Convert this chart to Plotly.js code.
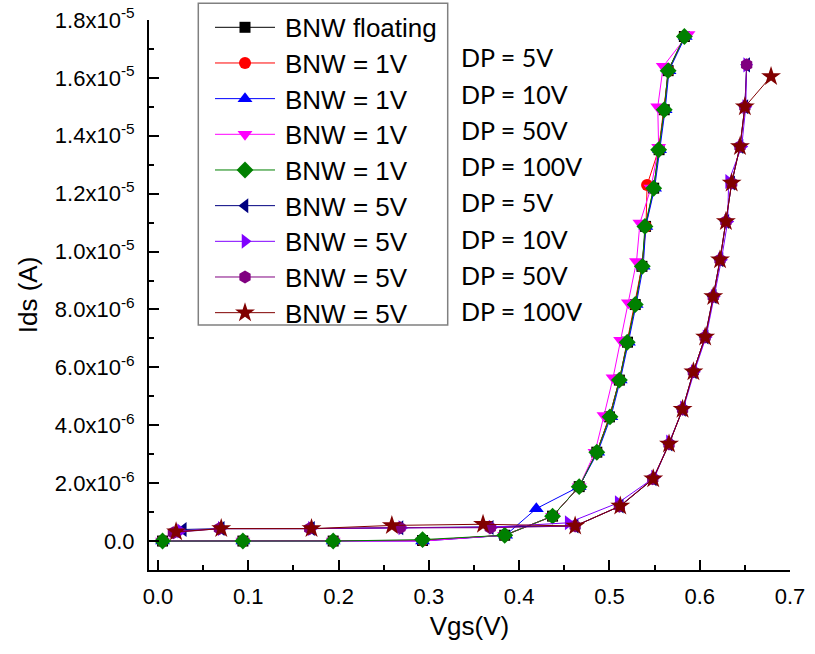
<!DOCTYPE html>
<html>
<head>
<meta charset="utf-8">
<script src="https://cdn.plot.ly/plotly-3.0.1.min.js"></script>
<style>html,body{margin:0;padding:0;background:#fff;}#chart{width:815px;height:654px;}</style>
</head>
<body>
<div id="chart"></div>
<script>
// ---------- data (Vgs in V, Ids in A) ----------
var vgsFloat = [0.005,0.094,0.194,0.293,0.384,0.437,0.4665,0.486,0.5,0.511,0.52,0.5286,0.536,0.54,0.549,0.555,0.5607,0.565,0.583];
var idsFloat = [0,0,0,0.02e-6,0.2e-6,0.86e-6,1.88e-6,3.07e-6,4.29e-6,5.56e-6,6.87e-6,8.17e-6,9.49e-6,10.87e-6,12.19e-6,13.52e-6,14.9e-6,16.25e-6,17.43e-6];

var vgs1V_5 = [0.005,0.094,0.194,0.293,0.384,0.437,0.4665,0.486,0.5,0.511,0.5195,0.528,0.536,0.5405,0.5417,0.5545,0.56,0.5655,0.583];
var ids1V_5 = [0,0,0,0.02e-6,0.2e-6,0.86e-6,1.88e-6,3.07e-6,4.29e-6,5.56e-6,6.87e-6,8.17e-6,9.49e-6,10.87e-6,12.3e-6,13.52e-6,14.9e-6,16.25e-6,17.43e-6];

var vgs1V_10 = [0.005,0.094,0.194,0.293,0.385,0.419,0.4665,0.487,0.5016,0.512,0.521,0.5296,0.5374,0.5403,0.55,0.5555,0.5617,0.566,0.584];
var ids1V_10 = [0,0,0,0,0.2e-6,1.12e-6,1.88e-6,3.07e-6,4.29e-6,5.56e-6,6.87e-6,8.17e-6,9.49e-6,10.87e-6,12.19e-6,13.52e-6,14.9e-6,16.25e-6,17.43e-6];

var vgs1V_50 = [0.005,0.094,0.194,0.293,0.384,0.437,0.4665,0.484,0.494,0.504,0.5124,0.521,0.530,0.5338,0.546,0.5545,0.5535,0.5596,0.587];
var ids1V_50 = [0,0,0,0,0.2e-6,0.86e-6,1.88e-6,3.07e-6,4.34e-6,5.64e-6,6.94e-6,8.23e-6,9.66e-6,10.99e-6,12.2e-6,13.6e-6,15.0e-6,16.4e-6,17.5e-6];

var vgs1V_100 = [0.005,0.094,0.194,0.293,0.384,0.437,0.4665,0.486,0.5006,0.511,0.5197,0.5286,0.5364,0.5393,0.549,0.5545,0.5607,0.565,0.583];
var ids1V_100 = [0,0,0,0.05e-6,0.2e-6,0.86e-6,1.88e-6,3.07e-6,4.29e-6,5.56e-6,6.87e-6,8.17e-6,9.49e-6,10.87e-6,12.19e-6,13.52e-6,14.9e-6,16.25e-6,17.43e-6];

var vgs5V_5 = [0.028,0.07,0.17,0.268,0.368,0.462,0.512,0.5485,0.566,0.581,0.593,0.606,0.615,0.6225,0.629,0.6354,0.6446,0.650,0.652];
var ids5V_5 = [0.4e-6,0.43e-6,0.43e-6,0.46e-6,0.47e-6,0.52e-6,1.21e-6,2.15e-6,3.35e-6,4.55e-6,5.85e-6,7.05e-6,8.45e-6,9.72e-6,11.04e-6,12.37e-6,13.63e-6,15.0e-6,16.45e-6];

var vgs5V_10 = [0.025,0.07,0.17,0.27,0.37,0.4543,0.5097,0.55,0.5665,0.582,0.594,0.607,0.616,0.624,0.631,0.632,0.6465,0.651,0.652];
var ids5V_10 = [0.35e-6,0.43e-6,0.43e-6,0.46e-6,0.48e-6,0.63e-6,1.32e-6,2.2e-6,3.42e-6,4.6e-6,5.85e-6,7.05e-6,8.45e-6,9.72e-6,11.04e-6,12.42e-6,13.63e-6,15.0e-6,16.45e-6];

var vgs5V_50 = [0.017,0.068,0.168,0.268,0.368,0.462,0.511,0.548,0.566,0.581,0.593,0.606,0.615,0.6225,0.629,0.6354,0.6446,0.650,0.652];
var ids5V_50 = [0.29e-6,0.43e-6,0.43e-6,0.46e-6,0.46e-6,0.52e-6,1.2e-6,2.15e-6,3.35e-6,4.55e-6,5.85e-6,7.05e-6,8.45e-6,9.72e-6,11.04e-6,12.37e-6,13.63e-6,15.0e-6,16.45e-6];

var vgs5V_100 = [0.02,0.07,0.17,0.259,0.36,0.462,0.512,0.5485,0.566,0.581,0.593,0.606,0.615,0.6225,0.629,0.6354,0.6446,0.650,0.679];
var ids5V_100 = [0.32e-6,0.43e-6,0.43e-6,0.54e-6,0.58e-6,0.52e-6,1.21e-6,2.15e-6,3.35e-6,4.55e-6,5.85e-6,7.05e-6,8.45e-6,9.72e-6,11.04e-6,12.37e-6,13.63e-6,15.0e-6,16.05e-6];

var seriesNames = ["BNW floating","BNW = 1V","BNW = 1V","BNW = 1V","BNW = 1V","BNW = 5V","BNW = 5V","BNW = 5V","BNW = 5V"];
var dpLabels = ["DP = 5V","DP = 10V","DP = 50V","DP = 100V","DP = 5V","DP = 10V","DP = 50V","DP = 100V"];

var xTickVals = [0,0.1,0.2,0.3,0.4,0.5,0.6,0.7];
var xTickText = ["0.0","0.1","0.2","0.3","0.4","0.5","0.6","0.7"];
var xMinorVals = [0.05,0.15,0.25,0.35,0.45,0.55,0.65];
var yTickVals = [0,2e-6,4e-6,6e-6,8e-6,1e-5,1.2e-5,1.4e-5,1.6e-5,1.8e-5];
var yTickText = ["0.0","2.0x10<sup>-6</sup>","4.0x10<sup>-6</sup>","6.0x10<sup>-6</sup>","8.0x10<sup>-6</sup>",
                 "1.0x10<sup>-5</sup>","1.2x10<sup>-5</sup>","1.4x10<sup>-5</sup>","1.6x10<sup>-5</sup>","1.8x10<sup>-5</sup>"];
var yMinorVals = [-1e-6,1e-6,3e-6,5e-6,7e-6,9e-6,1.1e-5,1.3e-5,1.5e-5,1.7e-5];

// ---------- styles ----------
var xs = [vgsFloat,vgs1V_5,vgs1V_10,vgs1V_50,vgs1V_100,vgs5V_5,vgs5V_10,vgs5V_50,vgs5V_100];
var ys = [idsFloat,ids1V_5,ids1V_10,ids1V_50,ids1V_100,ids5V_5,ids5V_10,ids5V_50,ids5V_100];
var colors = ["#000000","#ff0000","#0000ff","#ff00ff","#008000","#000080","#8000ff","#800080","#800000"];
var symbols = ["square","circle","triangle-up","triangle-down","diamond","triangle-left","triangle-right","hexagon","star"];
var sizes = [11,12,13,13,13,13,13,13,15];

// plot area in px
var L = 149, R = 790, T = 20, B = 570, W = 815, H = 654;
function px2paperX(p){ return (p - L) / (R - L); }
function px2paperY(p){ return (B - p) / (B - T); }

var traces = [];
for (var i = 0; i < xs.length; i++) {
  traces.push({
    x: xs[i], y: ys[i], type: 'scatter', mode: 'lines+markers', name: seriesNames[i],
    line: {color: colors[i], width: 1},
    marker: {color: colors[i], symbol: symbols[i], size: sizes[i], line: {width: 0}},
    showlegend: false, hoverinfo: 'skip'
  });
}

// manual legend (Origin style)
var legTop = 27.3, legStep = 35.67;
var shapes = [{type:'rect', xref:'paper', yref:'paper',
  x0: px2paperX(198.3), x1: px2paperX(447.7), y0: px2paperY(325), y1: px2paperY(3.3),
  line:{color:'#808080', width:1.5}, fillcolor:'rgba(0,0,0,0)'}];
var annotations = [];
for (var j = 0; j < seriesNames.length; j++) {
  var yy = legTop + j * legStep;
  shapes.push({type:'line', xref:'paper', yref:'paper', x0: px2paperX(215), x1: px2paperX(275),
    y0: px2paperY(yy), y1: px2paperY(yy), line:{color: colors[j], width:1}});
  traces.push({x:[245], y:[yy], xaxis:'x2', yaxis:'y2', type:'scatter', mode:'markers',
    marker:{color: colors[j], symbol: symbols[j], size: sizes[j], line:{width:0}},
    showlegend:false, hoverinfo:'skip', cliponaxis:false});
  annotations.push({xref:'paper', yref:'paper', x: px2paperX(283), y: px2paperY(yy + 1),
    xanchor:'left', yanchor:'middle', showarrow:false, text: seriesNames[j],
    font:{family:'Liberation Sans, Arial, sans-serif', size:26, color:'#000'}});
}
for (var k = 0; k < dpLabels.length; k++) {
  annotations.push({xref:'paper', yref:'paper', x: px2paperX(459), y: px2paperY(57.3 + k * 36.3),
    xanchor:'left', yanchor:'middle', showarrow:false, text: dpLabels[k],
    font:{family:'Lato, Open Sans, sans-serif', size:25, color:'#000'}});
}

var tickFont = {family:'Liberation Sans, Arial, sans-serif', size:22, color:'#000'};
var layout = {
  width: W, height: H,
  margin: {l: L, r: W - R, t: T, b: H - B, pad: 0},
  paper_bgcolor: '#fff', plot_bgcolor: '#fff',
  showlegend: false,
  xaxis: {
    range: [-0.01, 0.7], showgrid: false, zeroline: false,
    showline: true, linecolor: '#000', linewidth: 2, mirror: false,
    ticks: 'inside', ticklen: 10, tickwidth: 2, tickcolor: '#000',
    tickmode: 'array', tickvals: xTickVals, ticktext: xTickText,
    ticklabelstandoff: 6,
    minor: {tickmode: 'array', tickvals: xMinorVals, ticks: 'inside', ticklen: 5, tickwidth: 2, tickcolor: '#000', showgrid: false},
    tickfont: tickFont,
    title: {text: 'Vgs(V)', font: {family:'Liberation Sans, Arial, sans-serif', size: 26, color:'#000'}, standoff: 8}
  },
  yaxis: {
    range: [-1e-6, 1.8e-5], showgrid: false, zeroline: false,
    showline: true, linecolor: '#000', linewidth: 2, mirror: false,
    ticks: 'inside', ticklen: 10, tickwidth: 2, tickcolor: '#000',
    tickmode: 'array', tickvals: yTickVals, ticktext: yTickText,
    ticklabelstandoff: 8,
    minor: {tickmode: 'array', tickvals: yMinorVals, ticks: 'inside', ticklen: 5, tickwidth: 2, tickcolor: '#000', showgrid: false},
    tickfont: tickFont,
    title: {text: 'Ids (A)', font: {family:'Liberation Sans, Arial, sans-serif', size: 26, color:'#000'}, standoff: 10}
  },
  xaxis2: {overlaying: 'x', range: [L, R], visible: false, fixedrange: true},
  yaxis2: {overlaying: 'y', range: [B, T], visible: false, fixedrange: true},
  shapes: shapes,
  annotations: annotations
};

Plotly.newPlot('chart', traces, layout, {staticPlot: true, displayModeBar: false});
</script>
</body>
</html>
